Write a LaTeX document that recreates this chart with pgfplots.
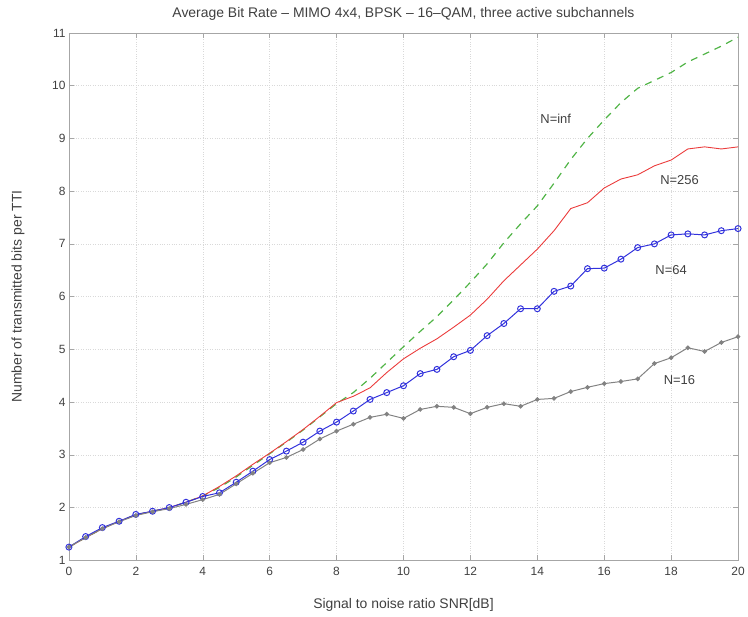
\documentclass[border=0pt]{standalone}
\usepackage{fontspec}
\setmainfont{Liberation Sans}
\usepackage{pgfplots}
\pgfplotsset{compat=1.18}
\definecolor{ninf}{RGB}{80,180,70}
\definecolor{n256}{RGB}{235,60,60}
\definecolor{n64}{RGB}{50,50,220}
\definecolor{n16}{RGB}{130,130,130}
\begin{document}
\begin{tikzpicture}
\begin{axis}[
    scale only axis,
    width=670bp, height=528bp,
    xmin=0, xmax=20, ymin=1, ymax=11,
    xtick={0,2,...,20}, ytick={1,2,...,11},
    tick align=inside,
    major tick length=5bp,
    grid=major,
    grid style={dotted, gray!30},
    axis line style={gray!70},
    every tick/.style={gray!70},
    /pgf/number format/assume math mode=true,
    tick label style={font=\fontsize{12}{14}\selectfont, text=black!75},
    xticklabel style={yshift=-3bp},
    title={Average Bit Rate -- MIMO 4x4, BPSK -- 16--QAM, three active subchannels},
    title style={font=\fontsize{14}{16}\selectfont, text=black!75,
        at={(axis description cs:0.5,1.024)}, anchor=center},
    xlabel={Signal to noise ratio SNR[dB]},
    ylabel={Number of transmitted bits per TTI},
    label style={font=\fontsize{14}{16}\selectfont, text=black!75},
    xlabel style={at={(axis description cs:0.5,-0.0852)}, anchor=center},
    ylabel style={at={(axis description cs:-0.0761,0.5)}, anchor=center},
    clip=false,
]
% N=inf
\addplot[color=ninf, dashed, dash pattern=on 7bp off 6bp, line width=1.2pt] coordinates {
(0,1.25)(0.5,1.43)(1,1.6)(1.5,1.74)(2,1.86)(2.5,1.93)(3,2.0)(3.5,2.1)(4,2.22)(4.5,2.38)
(5,2.58)(5.5,2.8)(6,3.02)(6.5,3.24)(7,3.47)(7.5,3.72)(8,3.97)(8.5,4.18)(9,4.45)(9.5,4.75)
(10,5.05)(10.5,5.34)(11,5.62)(11.5,5.94)(12,6.27)(12.5,6.62)(13,7.02)(13.5,7.38)(14,7.72)(14.5,8.15)
(15,8.6)(15.5,9.0)(16,9.35)(16.5,9.68)(17,9.95)(17.5,10.1)(18,10.25)(18.5,10.45)(19,10.6)(19.5,10.75)(20,10.92)
};
% N=256
\addplot[color=n256, line width=0.9pt] coordinates {
(0,1.25)(0.5,1.43)(1,1.6)(1.5,1.74)(2,1.86)(2.5,1.93)(3,2.0)(3.5,2.1)(4,2.22)(4.5,2.4)
(5,2.6)(5.5,2.82)(6,3.03)(6.5,3.25)(7,3.48)(7.5,3.73)(8,3.99)(8.5,4.11)(9,4.27)(9.5,4.56)
(10,4.82)(10.5,5.02)(11,5.2)(11.5,5.42)(12,5.65)(12.5,5.95)(13,6.3)(13.5,6.6)(14,6.9)(14.5,7.25)
(15,7.67)(15.5,7.78)(16,8.06)(16.5,8.23)(17,8.31)(17.5,8.48)(18,8.59)(18.5,8.8)(19,8.84)(19.5,8.8)(20,8.84)
};
% N=64
\addplot[color=n64, line width=1pt, mark=o, mark size=3pt, mark options={line width=1pt}] coordinates {
(0,1.25)(0.5,1.45)(1,1.62)(1.5,1.74)(2,1.87)(2.5,1.93)(3,2.0)(3.5,2.1)(4,2.21)(4.5,2.28)
(5,2.48)(5.5,2.69)(6,2.91)(6.5,3.07)(7,3.24)(7.5,3.45)(8,3.62)(8.5,3.83)(9,4.05)(9.5,4.18)
(10,4.31)(10.5,4.54)(11,4.62)(11.5,4.86)(12,4.98)(12.5,5.26)(13,5.49)(13.5,5.77)(14,5.77)(14.5,6.1)
(15,6.2)(15.5,6.53)(16,6.54)(16.5,6.71)(17,6.93)(17.5,7.0)(18,7.17)(18.5,7.19)(19,7.17)(19.5,7.25)(20,7.29)
};
% N=16
\addplot[color=n16, line width=1pt, mark=*, mark size=1.8pt] coordinates {
(0,1.25)(0.5,1.43)(1,1.6)(1.5,1.73)(2,1.85)(2.5,1.92)(3,1.98)(3.5,2.06)(4,2.15)(4.5,2.25)
(5,2.45)(5.5,2.65)(6,2.85)(6.5,2.95)(7,3.1)(7.5,3.3)(8,3.45)(8.5,3.58)(9,3.71)(9.5,3.77)
(10,3.69)(10.5,3.86)(11,3.92)(11.5,3.9)(12,3.78)(12.5,3.9)(13,3.97)(13.5,3.92)(14,4.05)(14.5,4.07)
(15,4.2)(15.5,4.28)(16,4.35)(16.5,4.39)(17,4.44)(17.5,4.73)(18,4.84)(18.5,5.03)(19,4.96)(19.5,5.13)(20,5.24)
};
\node[font=\fontsize{13}{15}\selectfont, text=black!75] at (axis cs:14.55,9.37) {N=inf};
\node[font=\fontsize{13}{15}\selectfont, text=black!75] at (axis cs:18.25,8.22) {N=256};
\node[font=\fontsize{13}{15}\selectfont, text=black!75] at (axis cs:18.0,6.5) {N=64};
\node[font=\fontsize{13}{15}\selectfont, text=black!75] at (axis cs:18.25,4.42) {N=16};
\end{axis}
\path (current axis.south west) ++(-69bp,-56bp) coordinate (bl);
\path (current axis.north east) ++(9bp,33bp) coordinate (tr);
\useasboundingbox (bl) rectangle (tr);
\end{tikzpicture}
\end{document}
